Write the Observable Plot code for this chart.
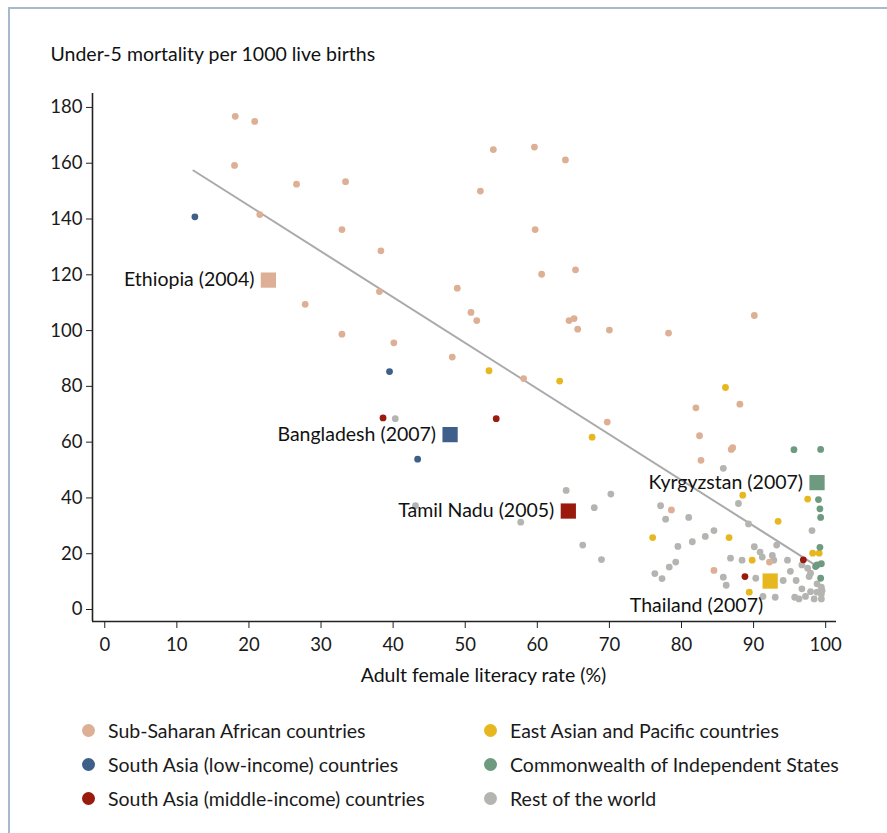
<!DOCTYPE html>
<html>
<head>
<meta charset="utf-8">
<script src="https://cdn.jsdelivr.net/npm/d3@7"></script>
<script src="https://cdn.jsdelivr.net/npm/@observablehq/plot@0.6"></script>
<style>
  html, body { margin: 0; padding: 0; background: #fff; overflow: hidden; }
  body { width: 887px; height: 833px; position: relative; font-family: Lato, "Open Sans", sans-serif; color: #1a1a1a; }
  #border { position: absolute; left: 8px; top: 7px; width: 1000px; height: 1000px; border: 2px solid #a9b8cc; box-sizing: border-box; }
  #chart { position: absolute; left: 0; top: 0; }
  #legend { position: absolute; left: 0; top: 716px; width: 887px; font-size: 19.5px; }
  .item { position: absolute; display: flex; align-items: center; white-space: nowrap; }
  .sw { width: 13px; height: 13px; border-radius: 50%; margin-right: 13px; }
</style>
</head>
<body>
<div id="border"></div>
<div id="chart"></div>
<div id="legend"></div>
<script>
// ---- data ----
const groups = ["Sub-Saharan African countries", "South Asia (low-income) countries", "South Asia (middle-income) countries",
                "East Asian and Pacific countries", "Commonwealth of Independent States", "Rest of the world"];
const colors = ["#ddb095", "#3e5f8a", "#9a1a0e", "#e6b71e", "#6e9a80", "#b4b4b1"];

const subSaharan = [[18.1,176.8],[20.8,175.0],[18.0,159.2],[26.6,152.5],[33.4,153.4],[21.5,141.6],[32.9,136.2],[27.8,109.4],
  [32.9,98.7],[38.1,114.0],[38.3,128.6],[53.9,164.9],[59.6,165.8],[63.9,161.2],[52.1,150.0],[59.7,136.2],[60.6,120.2],
  [65.3,121.8],[48.9,115.2],[50.8,106.5],[51.6,103.6],[64.4,103.6],[65.1,104.3],[65.6,100.5],[70.0,100.2],[78.2,99.1],
  [90.1,105.4],[40.1,95.6],[48.2,90.5],[58.1,82.8],[88.1,73.6],[82.0,72.3],[69.7,67.2],[82.5,62.3],[86.9,57.4],[87.1,58.0],
  [82.7,53.5],[78.6,35.7],[92.2,17.0],[84.5,14.0]];
const southAsiaLow = [[12.5,140.8],[39.5,85.3],[43.4,53.9]];
const southAsiaMid = [[38.6,68.7],[54.3,68.4],[96.9,17.8],[88.8,11.8]];
const eastAsia = [[53.3,85.6],[63.1,81.9],[86.1,79.6],[67.6,61.8],[88.5,41.0],[97.5,39.6],[93.4,31.6],[86.6,25.8],[76.0,25.8],
  [98.2,20.2],[99.1,20.2],[89.8,17.7],[89.4,6.2]];
const cis = [[95.6,57.3],[99.3,57.4],[99.0,39.4],[99.2,36.1],[99.3,33.0],[99.2,22.3],[98.8,16.0],[99.4,16.4],[98.6,15.4],[99.3,11.2]];
const restOfWorld = [[40.3,68.4],[43.1,37.2],[85.8,50.6],[64.0,42.7],[70.2,41.4],[77.1,37.2],[67.9,36.5],[87.9,38.0],[77.8,32.4],
  [81.0,33.0],[57.7,31.3],[89.3,30.7],[98.1,28.3],[84.5,28.3],[83.3,26.2],[81.5,24.3],[79.5,22.6],[66.3,23.1],[93.2,23.1],
  [90.1,22.5],[90.9,20.6],[92.6,19.4],[91.2,18.8],[86.8,18.4],[88.4,17.7],[92.8,17.7],[94.7,17.7],[79.2,17.0],[68.9,17.9],
  [78.3,15.2],[96.7,16.0],[97.5,14.8],[95.1,13.7],[97.9,13.0],[76.3,12.9],[77.3,11.1],[85.8,11.6],[90.3,11.2],[97.7,11.8],
  [94.1,10.4],[95.9,10.4],[86.2,8.7],[98.8,9.2],[99.4,8.0],[96.7,7.4],[93.0,4.4],[97.9,6.4],[98.8,6.2],[99.5,6.8],[99.4,5.6],
  [95.7,4.4],[96.3,3.8],[97.2,4.7],[98.4,3.8],[99.4,3.8],[91.3,4.7]];

const highlightNames = ["Ethiopia (2004)", "Bangladesh (2007)", "Tamil Nadu (2005)", "Kyrgyzstan (2007)", "Thailand (2007)"];
const highlightX = [22.7, 47.9, 64.3, 98.8, 92.3];
const highlightY = [118.1, 62.7, 35.3, 45.5, 10.2];
const highlightGroup = [0, 1, 2, 4, 3];

const trendX = [12.3, 99.0];
const trendY = [157.4, 15.2];

const xTicks = [0, 10, 20, 30, 40, 50, 60, 70, 80, 90, 100];
const yTicks = [0, 20, 40, 60, 80, 100, 120, 140, 160, 180];
const yTitle = "Under-5 mortality per 1000 live births";
const xTitle = "Adult female literacy rate (%)";

// ---- build tables ----
const seriesList = [subSaharan, southAsiaLow, southAsiaMid, eastAsia, cis, restOfWorld];
const points = [];
[5, 0, 1, 2, 3, 4].forEach(g => seriesList[g].forEach(([x, y]) => points.push({x, y, g: groups[g]})));
const highlights = highlightNames.map((name, i) => ({name, x: highlightX[i], y: highlightY[i], g: groups[highlightGroup[i]]}));
const trend = trendX.map((x, i) => ({x, y: trendY[i]}));

const xDomain = [-1.7, 101.5];
const yDomain = [-4.3, 185];
const font = "Lato, 'Open Sans', sans-serif";

const chart = Plot.plot({
  width: 887,
  height: 700,
  marginLeft: 92,
  marginRight: 51,
  marginTop: 93,
  marginBottom: 79,
  style: {fontFamily: font, fontSize: "18px", color: "#1a1a1a", background: "transparent"},
  x: {domain: xDomain},
  y: {domain: yDomain},
  color: {domain: groups, range: colors},
  marks: [
    Plot.axisX({ticks: xTicks, tickSize: 7, tickPadding: 9, fontSize: 18.5, label: null, stroke: "#222"}),
    Plot.axisY({ticks: yTicks, tickSize: 6, tickPadding: 4, fontSize: 18.5, label: null, stroke: "#222"}),
    Plot.ruleX([xDomain[0]], {stroke: "#222", strokeWidth: 1.6}),
    Plot.ruleY([yDomain[0]], {stroke: "#222", strokeWidth: 1.6}),
    Plot.line(trend, {x: "x", y: "y", stroke: "#aaaaaa", strokeWidth: 2}),
    Plot.dot(points, {x: "x", y: "y", fill: "g", r: 3.4}),
    Plot.dot(highlights, {x: "x", y: "y", fill: "g", symbol: "square", r: 8.6}),
    Plot.text(highlights.filter(d => d.name !== "Thailand (2007)"), {x: "x", y: "y", text: "name", textAnchor: "end", dx: -14, fontSize: 19.5, fill: "#111"}),
    Plot.text(highlights.filter(d => d.name === "Thailand (2007)"), {x: "x", y: "y", text: "name", textAnchor: "end", dx: -7, dy: 25, fontSize: 19.5, fill: "#111"}),
    Plot.text([yTitle], {frameAnchor: "top-left", text: d => d, textAnchor: "start", lineAnchor: "bottom", dx: -42, dy: -33, fontSize: 19.5, fill: "#111"}),
    Plot.text([xTitle], {frameAnchor: "bottom", text: d => d, lineAnchor: "top", dx: 19, dy: 47, fontSize: 19.5, fill: "#111"})
  ]
});
document.getElementById("chart").appendChild(chart);

// ---- legend ----
const legend = document.getElementById("legend");
const legendPos = [[82, 3], [82, 37], [82, 71], [484, 3], [484, 37], [484, 71]];
groups.forEach((g, i) => {
  const item = document.createElement("div");
  item.className = "item";
  item.style.left = legendPos[i][0] + "px";
  item.style.top = legendPos[i][1] + "px";
  const sw = document.createElement("span");
  sw.className = "sw";
  sw.style.background = colors[i];
  const label = document.createElement("span");
  label.textContent = g;
  item.appendChild(sw);
  item.appendChild(label);
  legend.appendChild(item);
});
</script>
</body>
</html>
